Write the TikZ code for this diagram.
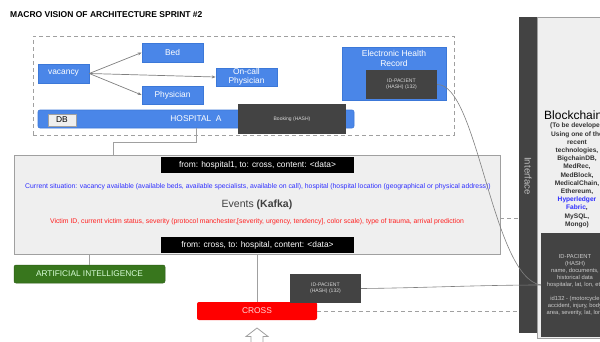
\documentclass[tikz,border=0pt]{standalone}
\usepackage{fontspec}
\setmainfont{Liberation Sans}
\usetikzlibrary{arrows.meta}
\definecolor{gblue}{HTML}{4A86E8}
\definecolor{gblueb}{HTML}{3C78D8}
\definecolor{dgray}{HTML}{434343}
\definecolor{lgray}{HTML}{EFEFEF}
\definecolor{bgray}{HTML}{A0A0A0}
\definecolor{ggreen}{HTML}{38761D}
\definecolor{tblue}{HTML}{2F2FFF}
\definecolor{tred}{HTML}{FF2020}
\newcommand{\myfs}[2]{\fontsize{#1}{#2}\selectfont}
\tikzset{
  bluebox/.style={fill=gblue, draw=gblueb, line width=0.6pt, text=white, inner sep=0pt, align=center, font=\myfs{8.4}{10}},
  darkbox/.style={fill=dgray, draw=none, text=white!85!black, inner sep=0pt, align=center, font=\myfs{5.1}{6.3}},
  blackbar/.style={fill=black, draw=none, text=white, inner sep=0pt, font=\myfs{8.4}{9.5}},
  conn/.style={draw=bgray, line width=0.7pt},
  arr/.style={draw=gray, line width=0.7pt, -{Stealth[length=4pt,width=3pt]}},
  dashconn/.style={draw=bgray, line width=0.9pt, dash pattern=on 4pt off 3pt},
}
\begin{document}
\begin{tikzpicture}[x=1pt,y=-1pt]
\useasboundingbox (0,0) rectangle (600,341);
\clip (0,0) rectangle (600,341);
\fill[white] (0,0) rectangle (600,341);

% title
\node[anchor=west, inner sep=0pt, font=\bfseries\myfs{8.5}{9}] (title) at (10,15) {MACRO VISION OF ARCHITECTURE SPRINT \#2};

% dashed hospital group
\node[draw=bgray, line width=0.8pt, dash pattern=on 4pt off 3pt, minimum width=421pt, minimum height=99pt, inner sep=0pt] (hospgroup) at (243.5,85.5) {};

\node[bluebox, minimum width=51pt, minimum height=19pt] (vacancy) at (63.5,73.5) {vacancy};
\node[bluebox, minimum width=61pt, minimum height=19pt] (bed) at (172.5,52.5) {Bed};
\node[bluebox, minimum width=61pt, minimum height=18pt] (oncall) at (246.5,77) {On-call\\[-0.5pt]Physician};
\node[bluebox, minimum width=61pt, minimum height=18pt] (phys) at (172.5,95) {Physician};
\draw[arr] (vacancy.east) -- (bed.west);
\draw[arr] (vacancy.east) -- (oncall.west);
\draw[arr] (vacancy.east) -- (phys.west);

\node[bluebox, rounded corners=2pt, minimum width=316pt, minimum height=18pt] (hospA) at (196,119) {HOSPITAL\ \ A};
\node[fill=lgray, draw=bgray, line width=0.4pt, minimum width=28pt, minimum height=12pt, inner sep=0pt, font=\myfs{8.4}{10}] (db) at (62,120) {DB};
\node[darkbox, minimum width=108pt, minimum height=30pt, font=\myfs{5}{6}] (booking) at (292,119) {Booking (HASH)};

\node[bluebox, draw=gblueb, minimum width=104pt, minimum height=53pt] (ehr) at (394,73.5) {};
\node[inner sep=0pt, align=center, text=white, font=\myfs{8.5}{10}] (ehrlabel) at (394,58) {Electronic Health\\Record};
\node[darkbox, minimum width=71pt, minimum height=29pt] (ehrid) at (401.5,84.5) {ID-PACIENT\\(HASH) (132)};

% events
\node[fill=lgray, draw=bgray, line width=0.8pt, minimum width=486pt, minimum height=99pt, inner sep=0pt] (events) at (257,204.5) {};
\node[blackbar, minimum width=193pt, minimum height=16pt] (bar1) at (257.5,165) {from: hospital1, to: cross, content: <data>};
\node[blackbar, minimum width=193pt, minimum height=16pt] (bar2) at (257.5,245) {from: cross, to: hospital, content: <data>};
\node[inner sep=0pt, text=tblue, font=\myfs{6.85}{8}] (current) at (258,187) {Current situation: vacancy available (available beds, available specialists, available on call), hospital (hospital location (geographical or physical address))};
\node[inner sep=0pt, text=black!75, font=\myfs{10.5}{12}] (evtitle) at (257,205) {Events \textbf{(Kafka)}};
\node[inner sep=0pt, text=tred, font=\myfs{6.85}{8}] (victim) at (257,222) {Victim ID, current victim status, severity (protocol manchester,[severity, urgency, tendency], color scale), type of trauma, arrival prediction};

\draw[conn] (hospA.south) |- (113,142) -- (113,155);

% AI and cross
\node[fill=ggreen, draw=ggreen!80!black, line width=0.5pt, rounded corners=2pt, minimum width=151pt, minimum height=18pt, inner sep=0pt, text=white!85!green, font=\myfs{8.3}{9.5}] (ai) at (89.5,274) {ARTIFICIAL INTELLIGENCE};
\draw[conn] (ai.north |- events.south) -- (ai.north);

\node[fill=red, draw=none, rounded corners=2pt, minimum width=120pt, minimum height=18pt, inner sep=0pt, text=white!85!red, font=\myfs{8.4}{10}] (cross) at (257,311) {CROSS};
\draw[conn] (cross.north |- events.south) -- (cross.north);
\node[darkbox, minimum width=71pt, minimum height=29pt] (crossid) at (325.5,288.5) {ID-PACIENT\\(HASH) (132)};

% up arrow below cross
\draw[draw=bgray, fill=white, line width=0.8pt] (257,328) -- (268,336.5) -- (263,336.5) -- (263,346) -- (251,346) -- (251,336.5) -- (246,336.5) -- cycle;

% blockchain
\node[fill=lgray, draw=bgray, line width=0.8pt, minimum width=110pt, minimum height=321pt, inner sep=0pt, anchor=north west] (chain) at (537,17) {};
\node[fill=dgray, draw=none, minimum width=18pt, minimum height=316pt, inner sep=0pt] (iface) at (528,175) {};
\node[rotate=-90, inner sep=0pt, text=white!75!black, font=\myfs{9.6}{11}] (ifacelabel) at (528,176) {Interface};
\node[inner sep=0pt, font=\myfs{12}{14}, anchor=west] (chaintitle) at (544,115) {Blockchain};
\node[inner sep=0pt, align=center, font=\bfseries\myfs{6.6}{8.2}, text=black!80] (chaintext) at (577,175.5) {(To be developed\\Using one of the\\recent\\technologies,\\BigchainDB,\\MedRec,\\MedBlock,\\MedicalChain,\\Ethereum,\\\textcolor{tblue}{Hyperledger}\\\textcolor{tblue}{Fabric},\\MySQL,\\Mongo)};
\node[fill=dgray, draw=none, minimum width=110pt, minimum height=104pt, inner sep=0pt, anchor=north west] (chainid) at (541,233) {};
\node[inner sep=0pt, align=center, text=white!80!black, font=\myfs{5.8}{7}] (chainidtext) at (575,285.5) {ID-PACIENT\\(HASH)\\name, documents,\\historical data\\hospitalar, lat, lon, etc\\[7pt]id132 - (motorcycle\\accident, injury, body\\area, severity, lat, lon)};

% connectors to blockchain
\coordinate (chainin) at (541,285);
\draw[dashconn] (events.east |- 0,218) -- (iface.west |- 0,218);
\draw[dashconn] (cross.east) -- (iface.west |- cross.east);
\draw[draw=gray, line width=0.6pt] (crossid.east) .. controls (420,288) and (480,285) .. (chainin);
\draw[draw=gray, line width=0.6pt] (ehrid.east) .. controls (478,84) and (492,278) .. (chainin);
\end{tikzpicture}
\end{document}
